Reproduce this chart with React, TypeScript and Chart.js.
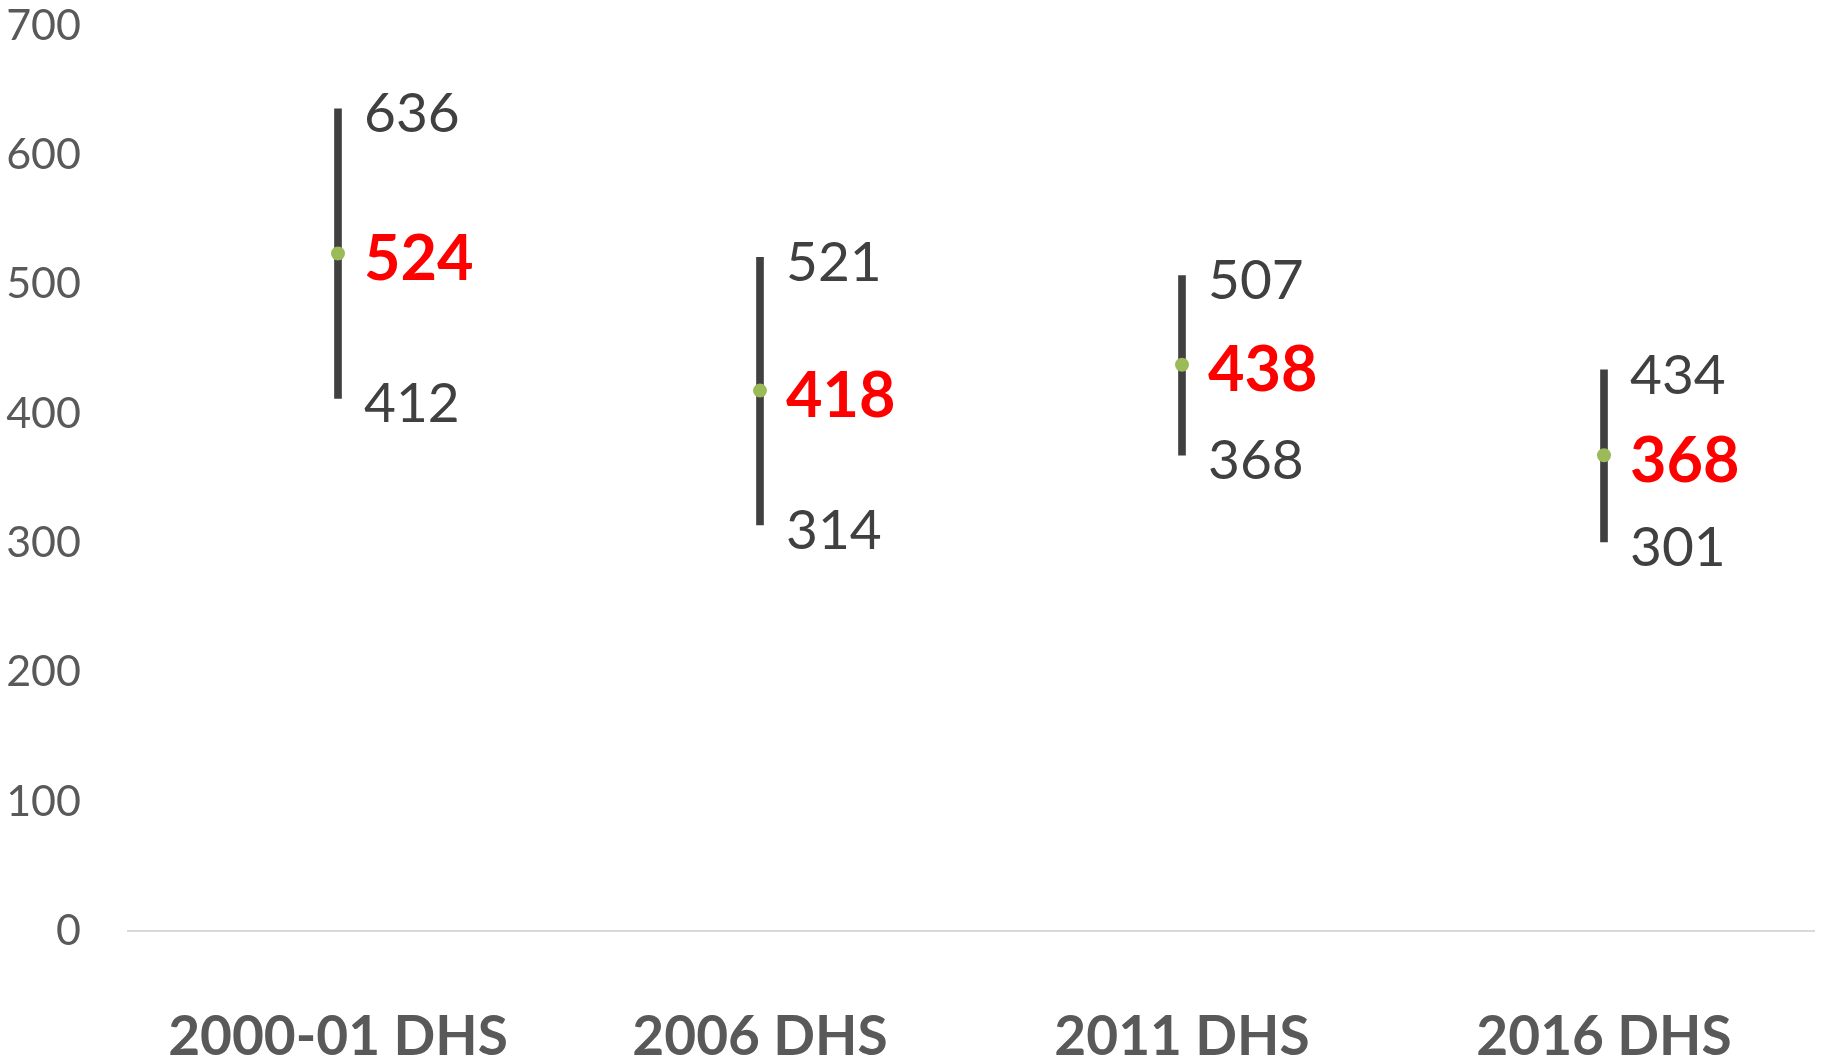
import React, { useEffect, useRef } from "react";
import { Chart, registerables } from "chart.js";

Chart.register(...registerables);

const categories = ["2000-01 DHS", "2006 DHS", "2011 DHS", "2016 DHS"];
const estimates = [524, 418, 438, 368];
const lowerBounds = [412, 314, 368, 301];
const upperBounds = [636, 521, 507, 434];
const yTicks = [0, 100, 200, 300, 400, 500, 600, 700];

const FONT = "Lato, 'Open Sans', sans-serif";

const labelPlugin = {
  id: "rangeLabels",
  afterDatasetsDraw(chart: any) {
    const ctx = chart.ctx;
    const xs = chart.scales.x;
    const ys = chart.scales.y;
    ctx.save();
    ctx.textAlign = "left";
    ctx.textBaseline = "middle";
    categories.forEach((_, i) => {
      const x = xs.getPixelForValue(i) + 26;
      ctx.fillStyle = "#404040";
      ctx.font = `400 55px ${FONT}`;
      ctx.fillText(String(upperBounds[i]), x, ys.getPixelForValue(upperBounds[i]) + 6);
      ctx.fillText(String(lowerBounds[i]), x, ys.getPixelForValue(lowerBounds[i]) + 6);
      ctx.fillStyle = "#FF0000";
      ctx.font = `700 63px ${FONT}`;
      ctx.fillText(String(estimates[i]), x, ys.getPixelForValue(estimates[i]) + 6);
    });
    ctx.restore();
  },
};

export default function App() {
  const canvasRef = useRef<HTMLCanvasElement | null>(null);

  useEffect(() => {
    if (!canvasRef.current) return;
    const chart = new Chart(canvasRef.current, {
      type: "bar",
      data: {
        labels: categories,
        datasets: [
          {
            type: "line",
            label: "Estimate",
            data: estimates,
            showLine: false,
            pointRadius: 7,
            pointHoverRadius: 7,
            pointBackgroundColor: "#9BBB59",
            pointBorderWidth: 0,
            borderColor: "#9BBB59",
            order: 0,
          } as any,
          {
            type: "bar",
            label: "Range",
            data: lowerBounds.map((lo, i) => [lo, upperBounds[i]]),
            backgroundColor: "#404040",
            borderWidth: 0,
            barThickness: 7,
            order: 1,
          } as any,
        ],
      },
      options: {
        animation: false,
        responsive: false,
        maintainAspectRatio: false,
        layout: { padding: { top: 26, right: 10, left: 0, bottom: 0 } },
        plugins: {
          legend: { display: false },
          tooltip: { enabled: false },
          title: { display: false },
        },
        scales: {
          x: {
            type: "category",
            offset: true,
            grid: { display: false, drawTicks: false },
            border: { display: false },
            ticks: {
              color: "#595959",
              padding: 79,
              font: { family: FONT, size: 55, weight: "bold", lineHeight: 1 },
              maxRotation: 0,
              autoSkip: false,
            },
            afterFit(scale: any) {
              scale.height = 129;
            },
          },
          y: {
            type: "linear",
            min: 0,
            max: 700,
            afterBuildTicks(scale: any) {
              scale.ticks = yTicks.map((v) => ({ value: v }));
            },
            grid: {
              drawTicks: false,
              lineWidth: 2,
              color: (c: any) => (c.tick && c.tick.value === 0 ? "#D9D9D9" : "rgba(0,0,0,0)"),
            },
            border: { display: false },
            ticks: {
              color: "#595959",
              padding: 46,
              font: { family: FONT, size: 43, lineHeight: 1.2 },
            },
            afterFit(scale: any) {
              scale.width = 127;
              scale.paddingTop = 0;
              scale.paddingBottom = 0;
            },
          },
        },
      },
      plugins: [labelPlugin],
    });
    return () => chart.destroy();
  }, []);

  return (
    <div style={{ position: "absolute", left: 0, top: 0, width: 1825, height: 1060, background: "#ffffff" }}>
      <canvas ref={canvasRef} width={1825} height={1060} style={{ width: 1825, height: 1060 }} />
    </div>
  );
}
